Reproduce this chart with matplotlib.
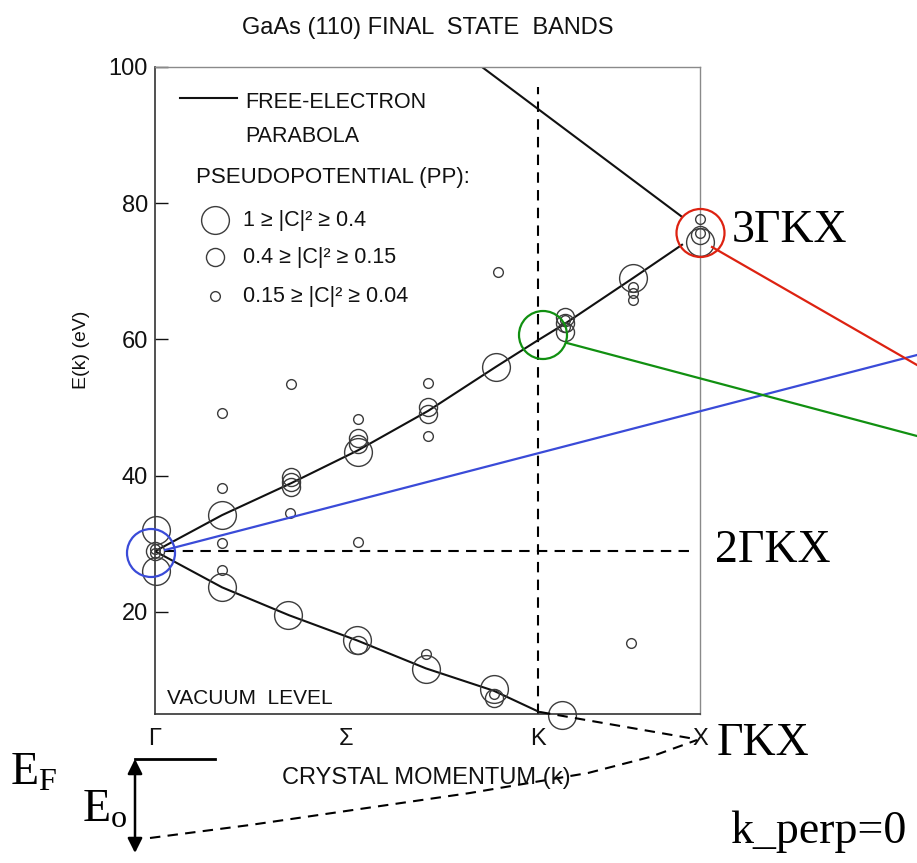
import matplotlib
matplotlib.use('Agg')
import matplotlib.pyplot as plt
from matplotlib.patches import Circle

plt.rcParams['font.family'] = ['Liberation Sans', 'DejaVu Sans']
plt.rcParams['mathtext.fontset'] = 'custom'
plt.rcParams['mathtext.rm'] = 'Liberation Serif'

INK = '#111111'
CIRC = '#3c3c3c'

# symmetry points along k (Gamma = 0, X = 1)
sym_labels = ['Γ', 'Σ', 'K', 'X']
sym_k = [0.0, 0.35, 0.703, 1.0]
k_K = 0.703
E_gamma = 28.9

# free-electron parabola branches
fe_up_k = [0.0, 0.123, 0.250, 0.372, 0.501, 0.626, 0.703, 0.752, 0.877, 0.967]
fe_up_E = [28.9, 34.2, 38.9, 43.7, 49.5, 56.0, 59.9, 62.3, 69.0, 73.9]
fe_low_k = [0.0, 0.123, 0.246, 0.371, 0.497, 0.622, 0.705]
fe_low_E = [28.9, 23.6, 19.5, 15.8, 11.7, 8.4, 5.3]
fe_top_k = [0.600, 0.967]
fe_top_E = [100.0, 78.0]

# pseudopotential final states, grouped by weight |C|^2
big_k = [0.002, 0.002, 0.123, 0.123, 0.244, 0.372, 0.371, 0.497, 0.626, 0.622, 0.877, 1.0, 0.747]
big_E = [32.0, 26.0, 34.2, 23.7, 19.6, 43.5, 15.9, 11.6, 56.0, 8.7, 69.0, 74.3, 4.9]

med_k = [0.250, 0.250, 0.250, 0.372, 0.372, 0.501, 0.501, 0.372, 0.622,
         0.0, 0.752, 0.752, 0.752, 1.0]
med_E = [39.8, 39.1, 38.3, 45.5, 44.7, 50.1, 49.1, 15.2, 7.4,
         28.9, 63.3, 62.4, 61.1, 75.3]

small_k = [0.123, 0.250, 0.501, 0.372, 0.501, 0.123, 0.123, 0.248, 0.372, 0.123,
           0.497, 0.622, 0.629, 0.877, 0.877, 0.877, 1.0, 1.0, 0.873,
           0.0, 0.0, 0.752, 0.752]
small_E = [49.2, 53.5, 53.6, 48.3, 45.8, 38.2, 30.1, 34.5, 30.3, 26.2,
           13.8, 7.9, 69.9, 67.7, 66.8, 65.8, 75.6, 77.7, 15.4,
           28.6, 29.2, 62.8, 61.8]

legend_ranges = ['1 ≥ |C|² ≥ 0.4', '0.4 ≥ |C|² ≥ 0.15', '0.15 ≥ |C|² ≥ 0.04']
sizes = [20, 13, 7]

fig = plt.figure(figsize=(9.17, 8.63), dpi=100)
W, H = 917, 863
ax = fig.add_axes([155 / W, 1 - 714 / H, 545 / W, 647 / H])

ax.plot(fe_up_k, fe_up_E, color=INK, lw=1.5, zorder=2)
ax.plot(fe_low_k, fe_low_E, color=INK, lw=1.5, zorder=2)
ax.plot(fe_top_k, fe_top_E, color=INK, lw=1.5, zorder=2)

ax.axvline(k_K, ymin=0, ymax=(97 - 5) / 95, color='black', lw=1.5, ls=(0, (5, 3.5)), zorder=1)
ax.plot([0.018, 0.985], [E_gamma, E_gamma], color='black', lw=1.5, ls=(0, (5, 3.5)), zorder=1)

for kk, ee, s in [(big_k, big_E, sizes[0]), (med_k, med_E, sizes[1]), (small_k, small_E, sizes[2])]:
    ax.plot(kk, ee, 'o', ms=s, mfc='none', mec=CIRC, mew=1.0, clip_on=False, zorder=3)

ax.set_xlim(0, 1)
ax.set_ylim(5, 100)
ax.set_yticks([20, 40, 60, 80, 100])
ax.tick_params(axis='y', direction='in', length=9, width=1, labelsize=17, pad=5, colors=INK)
ax.set_xticks(sym_k)
ax.set_xticklabels(sym_labels)
ax.tick_params(axis='x', length=0, labelsize=17, pad=10, colors=INK)
for side in ['left', 'bottom']:
    ax.spines[side].set_color('#333333')
    ax.spines[side].set_linewidth(1.2)
for side in ['top', 'right']:
    ax.spines[side].set_color('#8a8a8a')
    ax.spines[side].set_linewidth(1.0)
ax.set_ylabel('E(k) (eV)', fontsize=14, color=INK)
ax.yaxis.set_label_coords(-0.119, 0.563)
ax.set_title('GaAs (110) FINAL  STATE  BANDS', fontsize=17, color=INK, pad=24)

ax.text(0.022, 7.3, 'VACUUM  LEVEL', fontsize=15, color=INK, va='center')

# overlay in pixel coordinates for legend and annotations
ov = fig.add_axes([0, 0, 1, 1])
ov.set_xlim(0, W)
ov.set_ylim(H, 0)
ov.axis('off')
ov.patch.set_alpha(0)

# legend
ov.plot([180, 237], [98, 98], color=INK, lw=1.5)
ov.text(245, 102, 'FREE-ELECTRON', fontsize=15.5, color=INK, va='center')
ov.text(245, 137, 'PARABOLA', fontsize=15.5, color=INK, va='center')
ov.text(196, 178, 'PSEUDOPOTENTIAL (PP):', fontsize=16, color=INK, va='center')
for yy, s, lab in zip([220, 257, 296], sizes, legend_ranges):
    ov.plot([215], [yy], 'o', ms=s, mfc='none', mec=CIRC, mew=1.0)
    ov.text(243, yy, lab, fontsize=15.5, color=INK, va='center')

ov.text(426, 778, 'CRYSTAL MOMENTUM (k)', fontsize=17, color=INK, ha='center', va='center')

# highlighted points
for (cx, cy), col, end, start in [((151, 553), '#3a4bd8', (917, 355), (165, 550)),
                                  ((543, 335), '#119011', (917, 436), (567, 343)),
                                  ((700.5, 233), '#dd2211', (917, 365), (712, 247))]:
    ov.add_patch(Circle((cx, cy), 24, fill=False, ec=col, lw=1.6))
    ov.plot([start[0], end[0]], [start[1], end[1]], color=col, lw=1.6)

serif = 'Liberation Serif'
ov.text(732, 242, '3ΓKX', family=serif, fontsize=33, color='black', va='baseline')
ov.text(715, 562, '2ΓKX', family=serif, fontsize=33, color='black', va='baseline')
ov.text(717, 755, 'ΓKX', family=serif, fontsize=33, color='black', va='baseline')
ov.text(730, 843, 'k_perp=0', family=serif, fontsize=33, color='black', va='baseline')
ov.text(10, 785, r'$\mathrm{E_F}$', fontsize=33, color='black', va='baseline')
ov.text(82, 822, r'$\mathrm{E_o}$', fontsize=33, color='black', va='baseline')

# E_F level and E_o arrow
ov.plot([135, 215], [759, 759], color='black', lw=2)
ov.annotate('', xy=(135, 759), xytext=(135, 853),
            arrowprops=dict(arrowstyle='<|-|>', color='black', lw=1.8, mutation_scale=22,
                            shrinkA=0, shrinkB=0))
ov.plot([150, 250, 353, 470, 588, 650, 697], [838, 825, 810, 793, 773, 757, 740],
        color='black', lw=1.5, ls=(0, (5, 3.5)))
ov.plot([540, 695], [712, 739], color='black', lw=1.5, ls=(0, (5, 3.5)))

fig.savefig('out.png', dpi=100)
